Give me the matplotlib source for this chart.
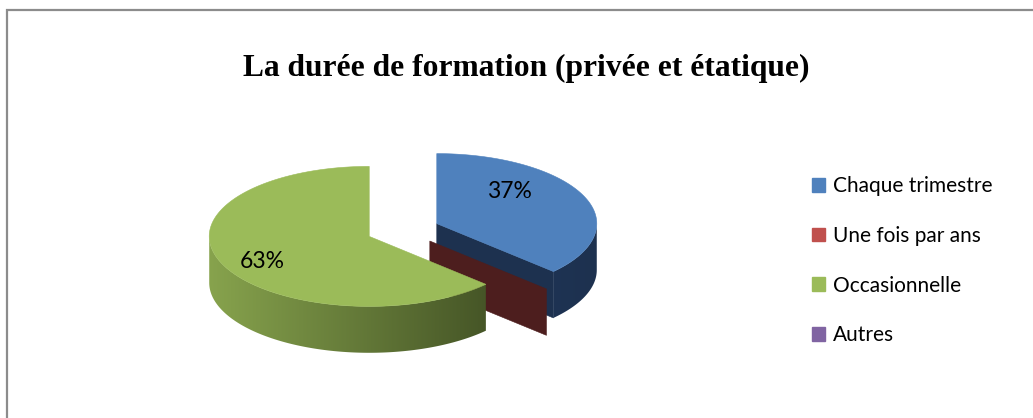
import numpy as np
import matplotlib
matplotlib.use("Agg")
import matplotlib.pyplot as plt
from matplotlib.patches import Polygon, Patch
from matplotlib.colors import to_rgb

# data
categories = ["Chaque trimestre", "Une fois par ans", "Occasionnelle", "Autres"]
values = [37, 0, 63, 0]
top_colors = ["#4f81bd", "#c0504d", "#9bbb59", "#8064a2"]
side_dark = ["#1d314f", "#4d1e1e", "#3c4a21", "#3a2c4d"]
side_light = ["#24406a", "#4d1e1e", "#87a34d", "#3a2c4d"]
title = "La durée de formation (privée et étatique)"

W, H = 1033, 418
fig = plt.figure(figsize=(W / 100, H / 100), dpi=100)

# outer frame (only top and left edges are visible in the crop)
bg = fig.add_axes([0, 0, 1, 1])
bg.set_xlim(0, W)
bg.set_ylim(H, 0)
bg.axis("off")
bg.plot([7, 7, W], [H, 10, 10], color="#8c8c8c", lw=1.6, solid_joinstyle="miter")
bg.text(526, 68, title, ha="center", va="center", fontsize=22.7,
        fontweight="bold", family="Liberation Serif")

# pseudo-3D pie, data units = pie radius
cx, cy, rx = 403, 230, 160
tilt = 0.4375
depth = 0.29
explode = 0.23

ax = fig.add_axes([0, 0, 1, 1])
ax.axis("off")
ax.patch.set_alpha(0)

fr = np.array(values, dtype=float) / sum(values)
starts = np.concatenate([[0], np.cumsum(fr)[:-1]]) * 360
ends = starts + fr * 360
mids = (starts + ends) / 2


def pt(th, r, o, dz=0.0):
    t = np.radians(th)
    return o[0] + r * np.sin(t), o[1] + r * np.cos(t) * tilt - dz


offsets = [(explode * np.sin(np.radians(m)), explode * np.cos(np.radians(m)) * tilt) for m in mids]


def add_poly(pts, color, z):
    p = Polygon(pts, closed=True, facecolor=color, edgecolor=color, lw=0.4, zorder=z)
    ax.add_patch(p)
    return p


order = sorted(range(len(values)), key=lambda i: -offsets[i][1])
# side faces first
for i in order:
    s, e, o = starts[i], ends[i], offsets[i]
    # radial walls facing the viewer
    for th, nrm in ((s, s - 90), (e, e + 90)):
        if np.cos(np.radians(nrm)) < -1e-6:
            p0, p1 = pt(th, 0, o), pt(th, 1, o)
            q1, q0 = pt(th, 1, o, depth), pt(th, 0, o, depth)
            add_poly([p0, p1, q1, q0], side_dark[i], 1)
    # curved outer wall, front part only, shaded left (light) to right (dark)
    a, b = max(s, 90), min(e, 270)
    if b > a:
        ths = np.linspace(a, b, 150)
        wall = [pt(t, 1, o) for t in ths] + [pt(t, 1, o, depth) for t in ths[::-1]]
        clip = Polygon(wall, closed=True, facecolor="none", edgecolor="none", zorder=2)
        ax.add_patch(clip)
        xs = np.linspace(o[0] - 1, o[0] + 1, 256)
        k = (1 + (xs - o[0])) / 2
        grad = np.array(to_rgb(side_light[i]))[None, :] * (1 - k[:, None]) + \
            np.array(to_rgb(side_dark[i]))[None, :] * k[:, None]
        im = ax.imshow(grad[None, :, :], extent=(o[0] - 1, o[0] + 1, o[1] - tilt - depth - 0.05,
                       o[1] + 0.05), aspect="auto", zorder=2, interpolation="bilinear")
        im.set_clip_path(clip)

# top faces
for i in order:
    if values[i] == 0:
        continue
    o = offsets[i]
    ths = np.linspace(starts[i], ends[i], 200)
    pts = [pt(0, 0, o)] + [pt(t, 1, o) for t in ths]
    add_poly(pts, top_colors[i], 3)

ax.set_xlim(-cx / rx, (W - cx) / rx)
ax.set_ylim((cy - H) / rx, cy / rx)

# percentage labels
label_xy = [(0.456, 0.20), None, (-0.669, -0.16), None]
for i, v in enumerate(values):
    if v == 0:
        continue
    o = offsets[i]
    ax.text(o[0] + label_xy[i][0], o[1] + label_xy[i][1], f"{v:.0f}%", ha="center",
            va="center", fontsize=16.5, family="Lato", zorder=5)

handles = [Patch(facecolor=c, edgecolor=c) for c in top_colors]
fig.legend(handles, categories, loc="upper left", bbox_to_anchor=(804 / W, 1 - 168 / H),
           frameon=False, prop={"family": "Lato", "size": 15}, handlelength=0.62,
           handleheight=0.62, handletextpad=0.35, labelspacing=1.42, borderaxespad=0)

fig.savefig("out.png", dpi=100)
